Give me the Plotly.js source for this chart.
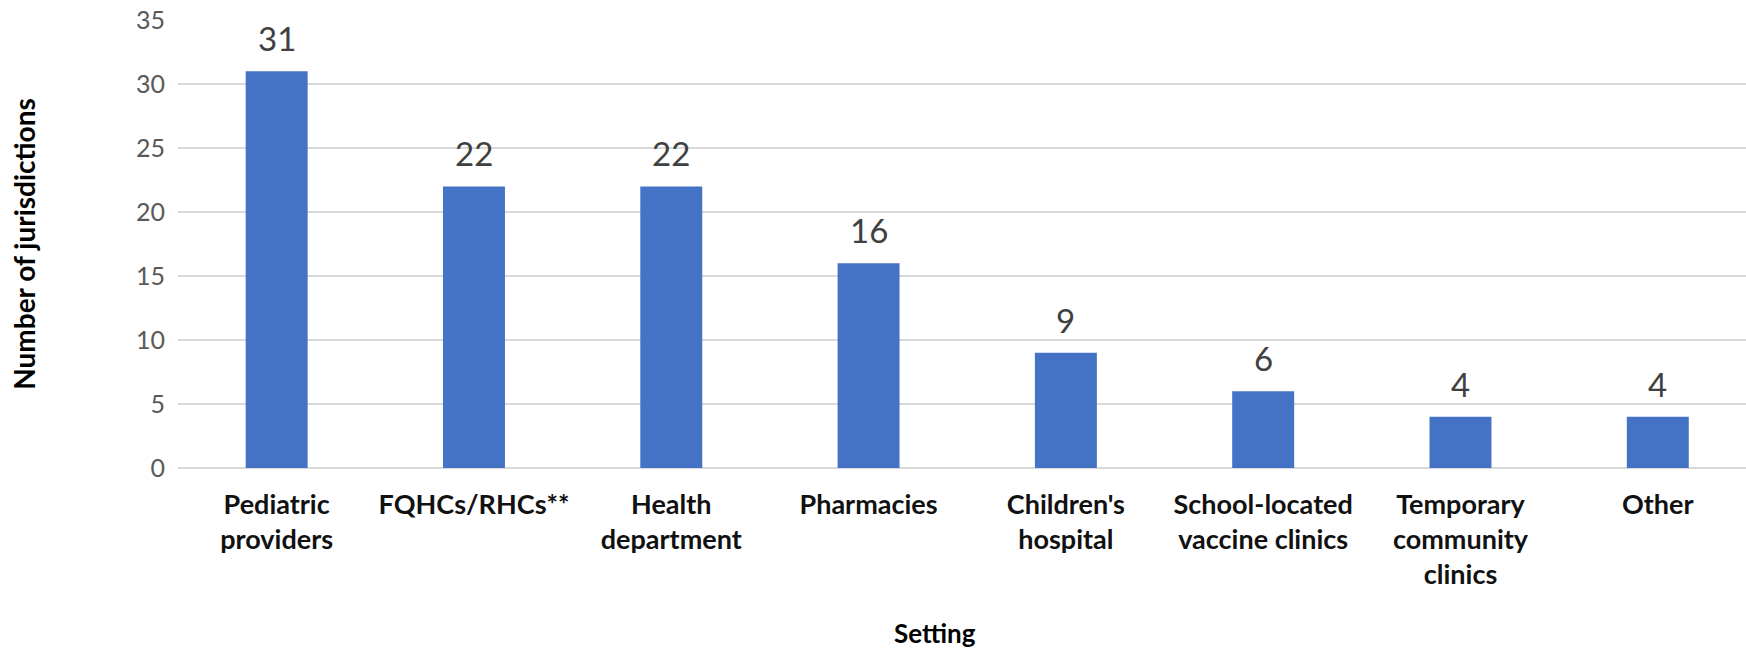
<!DOCTYPE html>
<html>
<head>
<meta charset="utf-8">
<script src="https://cdn.plot.ly/plotly-3.0.1.min.js"></script>
<style>
  html, body { margin: 0; padding: 0; background: #fff; }
  #chart { width: 1746px; height: 653px; }
</style>
</head>
<body>
<div id="chart"></div>
<script>
// Settings where jurisdictions offered vaccination
const categories = [
  "Pediatric<br>providers",
  "FQHCs/RHCs**",
  "Health<br>department",
  "Pharmacies",
  "Children's<br>hospital",
  "School-located<br>vaccine clinics",
  "Temporary<br>community<br>clinics",
  "Other"
];
const jurisdictions = [31, 22, 22, 16, 9, 6, 4, 4];
const yTicks = [0, 5, 10, 15, 20, 25, 30, 35];

const W = 1746, H = 653;
const mL = 178, mR = 0, mT = 20, mB = 185;

const FONT = "Lato, 'Open Sans', sans-serif";

const bar = {
  type: "bar",
  x: categories,
  y: jurisdictions,
  marker: { color: "#4472C4", line: { width: 0 } },
  hoverinfo: "x+y",
  showlegend: false
};

// value labels above each bar
const valueLabels = categories.map((c, i) => ({
  x: c,
  y: jurisdictions[i],
  xref: "x",
  yref: "y",
  text: String(jurisdictions[i]),
  showarrow: false,
  yanchor: "bottom",
  yshift: 11,
  font: { family: FONT, size: 33, color: "#404040" }
}));

const layout = {
  width: W,
  height: H,
  margin: { l: mL, r: mR, t: mT, b: mB, pad: 0 },
  paper_bgcolor: "#ffffff",
  plot_bgcolor: "#ffffff",
  bargap: 0.686,
  font: { family: FONT },
  xaxis: {
    type: "category",
    range: [-0.5, 7.447],
    showgrid: false,
    zeroline: false,
    showline: false,
    ticks: "",
    tickfont: { family: FONT, size: 27, color: "#111111", weight: "bold" },
    ticklabelstandoff: 18
  },
  yaxis: {
    range: [0, 35],
    tickvals: yTicks,
    ticktext: yTicks.map(String),
    showgrid: true,
    gridcolor: "#D9D9D9",
    gridwidth: 1.5,
    zeroline: true,
    zerolinecolor: "#D9D9D9",
    zerolinewidth: 1.5,
    showline: false,
    ticks: "",
    tickfont: { family: FONT, size: 25, color: "#595959" },
    ticklabelstandoff: 12,
    title: {
      text: "Number of jurisdictions",
      font: { family: FONT, size: 28, color: "#000000", weight: "bold" },
      standoff: 92
    }
  },
  annotations: valueLabels.concat([{
    xref: "paper",
    yref: "paper",
    x: (935 - mL) / (W - mL - mR),
    y: (H - 633 - mB) / (H - mT - mB),
    xanchor: "center",
    yanchor: "middle",
    text: "Setting",
    showarrow: false,
    font: { family: FONT, size: 26, color: "#000000", weight: "bold" }
  }])
};

Plotly.newPlot("chart", [bar], layout, { displayModeBar: false, staticPlot: true });
</script>
</body>
</html>
